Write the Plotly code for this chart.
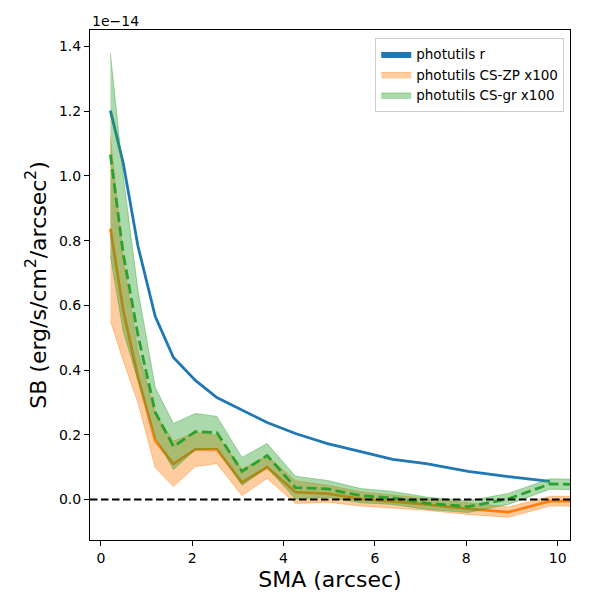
import plotly.graph_objects as go

# SMA (arcsec)
sma = [0.21, 0.49, 0.81, 1.19, 1.59, 2.07, 2.54, 3.09, 3.64, 4.26, 4.96, 5.69,
       6.39, 7.12, 8.04, 8.92, 9.83, 10.75]

# surface brightness in units of 1e-14 erg/s/cm^2/arcsec^2
sb_r = [1.202, 1.040, 0.785, 0.566, 0.439, 0.368, 0.315, 0.277, 0.238, 0.204,
        0.173, 0.148, 0.124, 0.111, 0.087, 0.071, 0.056]

sb_zp = [0.837, 0.585, 0.380, 0.182, 0.110, 0.155, 0.155, 0.053, 0.100, 0.023,
         0.018, 0.002, -0.006, -0.015, -0.029, -0.039, -0.005, -0.005]
sb_zp_lo = [0.552, 0.430, 0.300, 0.099, 0.040, 0.102, 0.111, 0.012, 0.065, -0.012,
            -0.008, -0.020, -0.026, -0.033, -0.046, -0.055, -0.020, -0.020]
sb_zp_hi = [1.122, 0.740, 0.460, 0.265, 0.180, 0.208, 0.199, 0.094, 0.135, 0.058,
            0.044, 0.024, 0.014, 0.003, -0.012, -0.023, 0.010, 0.010]

sb_gr = [1.066, 0.760, 0.510, 0.270, 0.164, 0.210, 0.207, 0.087, 0.136, 0.037,
         0.033, 0.012, 0.005, -0.011, -0.022, 0.002, 0.048, 0.046]
sb_gr_lo = [0.753, 0.520, 0.370, 0.193, 0.093, 0.154, 0.157, 0.044, 0.099, 0.002,
            0.007, -0.010, -0.015, -0.030, -0.040, -0.015, 0.032, 0.030]
sb_gr_hi = [1.379, 1.000, 0.650, 0.347, 0.235, 0.266, 0.257, 0.130, 0.173, 0.072,
            0.059, 0.034, 0.025, 0.008, -0.004, 0.019, 0.064, 0.062]

x_ticks = [0, 2, 4, 6, 8, 10]
y_ticks = [0.0, 0.2, 0.4, 0.6, 0.8, 1.0, 1.2, 1.4]

BLUE = "#1f77b4"
ORANGE = "#ff7f0e"
GREEN = "#2ca02c"
FONT = "DejaVu Sans"


def band(x, lo, hi):
    return list(x) + list(x)[::-1], list(hi) + list(lo)[::-1]


fig = go.Figure()

# blue legend patch (zero-width band along the profile)
n_r = len(sb_r)
bx, by = band(sma[:n_r], sb_r, sb_r)
fig.add_trace(go.Scatter(x=bx, y=by, fill="toself", fillcolor=BLUE, mode="lines",
                         line=dict(width=0, color=BLUE), name="photutils r",
                         legendrank=1, hoverinfo="skip"))
fig.add_trace(go.Scatter(x=sma[:n_r], y=sb_r, mode="lines",
                         line=dict(color=BLUE, width=2.8), showlegend=False))

ox, oy = band(sma, sb_zp_lo, sb_zp_hi)
fig.add_trace(go.Scatter(x=ox, y=oy, fill="toself", fillcolor="rgba(255,127,14,0.4)",
                         mode="lines", line=dict(width=1, color="rgba(255,127,14,0.4)"),
                         name="photutils CS-ZP x100", legendrank=2, hoverinfo="skip"))
fig.add_trace(go.Scatter(x=sma, y=sb_zp, mode="lines",
                         line=dict(color=ORANGE, width=2.8), showlegend=False))

gx, gy = band(sma, sb_gr_lo, sb_gr_hi)
fig.add_trace(go.Scatter(x=gx, y=gy, fill="toself", fillcolor="rgba(44,160,44,0.4)",
                         mode="lines", line=dict(width=1, color="rgba(44,160,44,0.4)"),
                         name="photutils CS-gr x100", legendrank=3, hoverinfo="skip"))
fig.add_trace(go.Scatter(x=sma, y=sb_gr, mode="lines",
                         line=dict(color=GREEN, width=2.8, dash="10px,4.5px"),
                         showlegend=False))

fig.add_shape(type="line", xref="paper", x0=0, x1=1, yref="y", y0=0, y1=0,
              line=dict(color="black", width=2, dash="7.5px,3.5px"), layer="above")

axis_common = dict(showline=True, linecolor="black", linewidth=1.1, mirror=True,
                   ticks="outside", ticklen=5, tickwidth=1.1, tickcolor="black",
                   showgrid=False, zeroline=False, automargin=False,
                   tickfont=dict(family=FONT, size=14, color="black"))

fig.update_xaxes(range=[-0.237, 10.27], tickvals=x_ticks,
                 ticktext=[str(v) for v in x_ticks],
                 title=dict(text="SMA (arcsec)", font=dict(family=FONT, size=22, color="black"),
                            standoff=6),
                 **axis_common)
fig.update_yaxes(range=[-0.125, 1.451], tickvals=y_ticks,
                 ticktext=[f"{v:.1f}" for v in y_ticks],
                 title=dict(text="SB (erg/s/cm<sup>2</sup>/arcsec<sup>2</sup>)",
                            font=dict(family=FONT, size=22, color="black"), standoff=6),
                 **axis_common)

fig.add_annotation(text="1e\u221214", xref="paper", yref="paper", x=0, y=1,
                   xanchor="left", yanchor="bottom", showarrow=False, yshift=-1,
                   font=dict(family=FONT, size=14, color="black"))

fig.update_layout(
    width=592, height=592,
    margin=dict(l=82, r=30, t=22, b=60),
    plot_bgcolor="white", paper_bgcolor="white",
    font=dict(family=FONT, color="black"),
    legend=dict(x=0.988, y=0.985, xanchor="right", yanchor="top",
                bgcolor="rgba(255,255,255,0.8)", bordercolor="#cccccc", borderwidth=1,
                font=dict(family=FONT, size=13.5, color="black"), traceorder="normal",
                tracegroupgap=2),
    showlegend=True,
)

fig.write_html("out.html")
